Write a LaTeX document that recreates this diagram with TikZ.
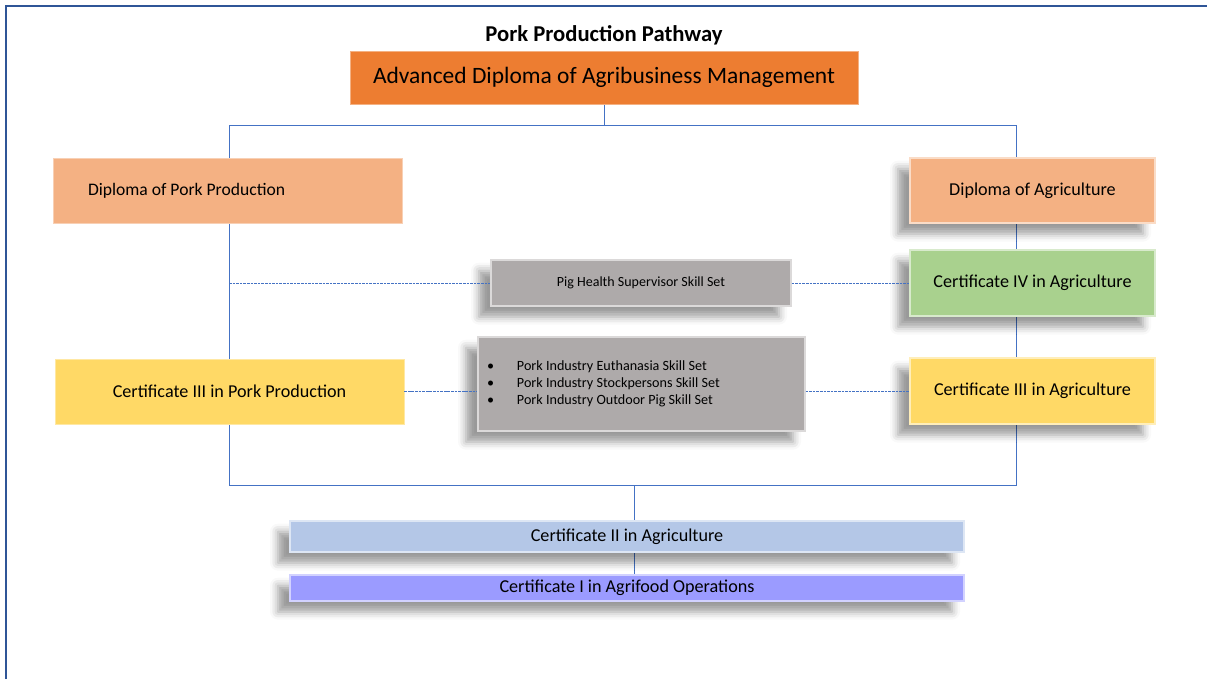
\documentclass[tikz,border=0pt]{standalone}
\usepackage{fontspec}
\setmainfont{Carlito}
\usetikzlibrary{shadows.blur}
\pgfdeclarelayer{background}
\pgfsetlayers{background,main}

\definecolor{advorange}{HTML}{ED7D31}
\definecolor{peach}{HTML}{F4B183}
\definecolor{certgreen}{HTML}{A9D18E}
\definecolor{certyellow}{HTML}{FFD966}
\definecolor{skillgray}{HTML}{AEAAAA}
\definecolor{paleblue}{HTML}{B4C7E7}
\definecolor{lilac}{HTML}{9B9BFF}
\definecolor{linkblue}{HTML}{4472C4}
\definecolor{framebl}{HTML}{2F5597}

\newcommand{\skillitem}[1]{\makebox[231.75pt][l]{\makebox[22.5pt][l]{\textbullet}#1}}

\begin{document}
\begin{tikzpicture}[x=0.75pt,y=-0.75pt,
    box/.style={rectangle, inner sep=0pt, align=center, font=\fontsize{13.6}{16}\selectfont},
    flat/.style={box, draw=#1!60!white, fill=#1},
    bevel/.style={box, draw=#1!45!white, line width=0.8pt, fill=#1,
        blur shadow={shadow xshift=-9pt, shadow yshift=-8pt, shadow blur radius=6pt, shadow opacity=40}},
    link/.style={draw=linkblue, line width=0.6pt},
    skilllink/.style={draw=linkblue, line width=0.7pt, dash pattern=on 2pt off 0.7pt}]
    \useasboundingbox (0,0) rectangle (1207,679);

    % Frame
    \draw[framebl, line width=0.8pt] (6,679) -- (6,6) -- (1207,6);

    % Title
    \node[font=\fontsize{17}{20}\selectfont\bfseries] (title) at (604,35) {Pork Production Pathway};
    \node[flat=advorange, minimum width=381pt, minimum height=39.75pt, font=\fontsize{17.6}{20}\selectfont] (adv) at (604,77.5) {Advanced Diploma of Agribusiness Management};

    % Left column
    \node[flat=peach, minimum width=261.75pt, minimum height=48.75pt, font=\fontsize{13.2}{16}\selectfont] (dip-pork) at (227.5,190.5) {\makebox[209.25pt][l]{Diploma of Pork Production}};
    \node[flat=certyellow, minimum width=261.75pt, minimum height=48.75pt] (cert3-pork) at (229.5,391.5) {Certificate III in Pork Production};

    % Right column
    \node[bevel=peach, minimum width=183.75pt, minimum height=48.75pt] (dip-agr) at (1032.5,190.5) {Diploma of Agriculture};
    \node[bevel=certgreen, minimum width=183.75pt, minimum height=49.5pt] (cert4-agr) at (1032.5,283) {Certificate IV in Agriculture};
    \node[bevel=certyellow, minimum width=183.75pt, minimum height=49.5pt] (cert3-agr) at (1032.5,391) {Certificate III in Agriculture};

    % Skill sets
    \node[bevel=skillgray, minimum width=225pt, minimum height=34.5pt, font=\fontsize{10.5}{12}\selectfont] (pig-health) at (641,283) {Pig Health Supervisor Skill Set};
    \node[bevel=skillgray, minimum width=245.25pt, minimum height=70.5pt, font=\fontsize{10.6}{12.75}\selectfont, align=left] (pork-skills) at (641.5,384)
        {\skillitem{Pork Industry Euthanasia Skill Set}\\
         \skillitem{Pork Industry Stockpersons Skill Set}\\
         \skillitem{Pork Industry Outdoor Pig Skill Set}};

    % Entry level
    \node[bevel=paleblue, minimum width=505.5pt, minimum height=23.25pt] (cert2-agr) at (627,536.5) {Certificate II in Agriculture};
    \node[bevel=lilac, minimum width=505.5pt, minimum height=19.5pt] (cert1-agri) at (627,588) {Certificate I in Agrifood Operations};

    % Connectors
    \coordinate (top-left) at (229,125);
    \coordinate (top-right) at (1016,125);
    \coordinate (bot-left) at (229,485);
    \coordinate (bot-right) at (1016,485);
    \coordinate (hub) at (634,485);
    \begin{pgfonlayer}{background}
        \draw[link] (adv.south) -- (adv.south |- top-left);
        \draw[link] (top-right) -- (top-left) -- (bot-left) -- (bot-right) -- cycle;
        \draw[link] (hub) -- (hub |- cert1-agri.north);
    \end{pgfonlayer}
    \draw[skilllink] (pig-health.west -| top-left) -- (pig-health.west);
    \draw[skilllink] (pig-health.east) -- (cert4-agr.west);
    \draw[skilllink] (cert3-pork.east) -- (cert3-pork.east -| pork-skills.west);
    \draw[skilllink] (cert3-agr.west -| pork-skills.east) -- (cert3-agr.west);

\end{tikzpicture}
\end{document}
